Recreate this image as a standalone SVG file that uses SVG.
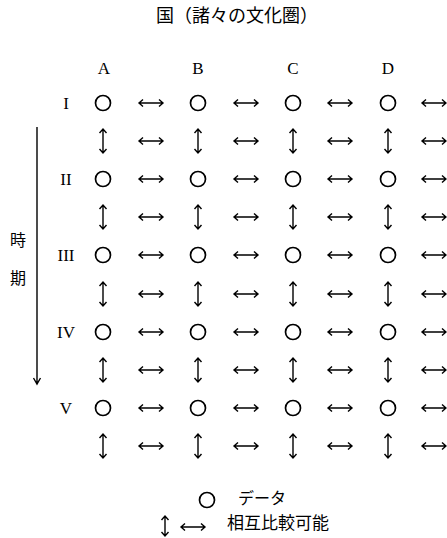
<svg xmlns="http://www.w3.org/2000/svg" xmlns:xlink="http://www.w3.org/1999/xlink" width="447" height="538" viewBox="0 0 447 538">
<style>
.lat{font-family:"Liberation Serif",serif;font-size:17px;fill:#000;text-anchor:middle}
.cjk{font-family:"Noto Sans CJK JP",sans-serif;fill:#000}
.node{fill:none;stroke:#000;stroke-width:1.7}
.arr{fill:none;stroke:#000;stroke-width:1.4;stroke-linejoin:miter}
</style>
<defs>
<path id="h" class="arr" d="M-12,0 H12 M-8,-3.5 L-12,0 L-8,3.5 M8,-3.5 L12,0 L8,3.5"/>
<path id="v" class="arr" d="M0,-12 V12 M-3.5,-8 L0,-12 L3.5,-8 M-3.5,8 L0,12 L3.5,8"/>
<path id="vs" class="arr" d="M0,-10 V10 M-3.5,-6 L0,-10 L3.5,-6 M-3.5,6 L0,10 L3.5,6"/>
<circle id="o" class="node" r="7.5"/>
</defs>
<rect width="447" height="538" fill="#fff"/>
<text class="cjk" x="237" y="22" font-size="18" text-anchor="middle">国（諸々の文化圏）</text>
<g id="cols">
<text class="lat" x="104" y="74">A</text>
<text class="lat" x="198" y="74">B</text>
<text class="lat" x="293" y="74">C</text>
<text class="lat" x="388" y="74">D</text>
</g>
<g id="rows">
<text class="lat" x="66" y="109">I</text>
<text class="lat" x="66" y="185">II</text>
<text class="lat" x="66" y="261">III</text>
<text class="lat" x="66" y="338">IV</text>
<text class="lat" x="66" y="414">V</text>
</g>
<g id="time">
<path class="arr" d="M37,127 V384 M33.5,378 L37,384 L40.5,378"/>
<text class="cjk" x="18" y="246" font-size="16" text-anchor="middle">時</text>
<text class="cjk" x="18" y="284" font-size="16" text-anchor="middle">期</text>
</g>
<g id="n-I-A"><use href="#o" x="103" y="103"/></g>
<g id="n-I-B"><use href="#o" x="198" y="103"/></g>
<g id="n-I-C"><use href="#o" x="293" y="103"/></g>
<g id="n-I-D"><use href="#o" x="388" y="103"/></g>
<g id="n-II-A"><use href="#o" x="103" y="179"/></g>
<g id="n-II-B"><use href="#o" x="198" y="179"/></g>
<g id="n-II-C"><use href="#o" x="293" y="179"/></g>
<g id="n-II-D"><use href="#o" x="388" y="179"/></g>
<g id="n-III-A"><use href="#o" x="103" y="255"/></g>
<g id="n-III-B"><use href="#o" x="198" y="255"/></g>
<g id="n-III-C"><use href="#o" x="293" y="255"/></g>
<g id="n-III-D"><use href="#o" x="388" y="255"/></g>
<g id="n-IV-A"><use href="#o" x="103" y="332"/></g>
<g id="n-IV-B"><use href="#o" x="198" y="332"/></g>
<g id="n-IV-C"><use href="#o" x="293" y="332"/></g>
<g id="n-IV-D"><use href="#o" x="388" y="332"/></g>
<g id="n-V-A"><use href="#o" x="103" y="408"/></g>
<g id="n-V-B"><use href="#o" x="198" y="408"/></g>
<g id="n-V-C"><use href="#o" x="293" y="408"/></g>
<g id="n-V-D"><use href="#o" x="388" y="408"/></g>
<g id="connectors">
<use href="#h" x="151" y="103"/><use href="#h" x="246" y="103"/><use href="#h" x="340" y="103"/><use href="#h" x="434" y="103"/>
<use href="#v" x="103" y="141"/><use href="#h" x="151" y="141"/><use href="#v" x="198" y="141"/><use href="#h" x="246" y="141"/><use href="#v" x="293" y="141"/><use href="#h" x="340" y="141"/><use href="#v" x="388" y="141"/><use href="#h" x="434" y="141"/>
<use href="#h" x="151" y="179"/><use href="#h" x="246" y="179"/><use href="#h" x="340" y="179"/><use href="#h" x="434" y="179"/>
<use href="#v" x="103" y="217"/><use href="#h" x="151" y="217"/><use href="#v" x="198" y="217"/><use href="#h" x="246" y="217"/><use href="#v" x="293" y="217"/><use href="#h" x="340" y="217"/><use href="#v" x="388" y="217"/><use href="#h" x="434" y="217"/>
<use href="#h" x="151" y="255"/><use href="#h" x="246" y="255"/><use href="#h" x="340" y="255"/><use href="#h" x="434" y="255"/>
<use href="#v" x="103" y="294"/><use href="#h" x="151" y="294"/><use href="#v" x="198" y="294"/><use href="#h" x="246" y="294"/><use href="#v" x="293" y="294"/><use href="#h" x="340" y="294"/><use href="#v" x="388" y="294"/><use href="#h" x="434" y="294"/>
<use href="#h" x="151" y="332"/><use href="#h" x="246" y="332"/><use href="#h" x="340" y="332"/><use href="#h" x="434" y="332"/>
<use href="#v" x="103" y="370"/><use href="#h" x="151" y="370"/><use href="#v" x="198" y="370"/><use href="#h" x="246" y="370"/><use href="#v" x="293" y="370"/><use href="#h" x="340" y="370"/><use href="#v" x="388" y="370"/><use href="#h" x="434" y="370"/>
<use href="#h" x="151" y="408"/><use href="#h" x="246" y="408"/><use href="#h" x="340" y="408"/><use href="#h" x="434" y="408"/>
<use href="#v" x="103" y="446"/><use href="#h" x="151" y="446"/><use href="#v" x="198" y="446"/><use href="#h" x="246" y="446"/><use href="#v" x="293" y="446"/><use href="#h" x="340" y="446"/><use href="#v" x="388" y="446"/><use href="#h" x="434" y="446"/>
</g>
<g id="legend">
<use href="#o" x="207" y="500"/>
<text class="cjk" x="238" y="504" font-size="16">データ</text>
<use href="#vs" x="165" y="526"/>
<use href="#h" x="193" y="527"/>
<text class="cjk" x="227" y="529" font-size="17">相互比較可能</text>
</g>
</svg>
